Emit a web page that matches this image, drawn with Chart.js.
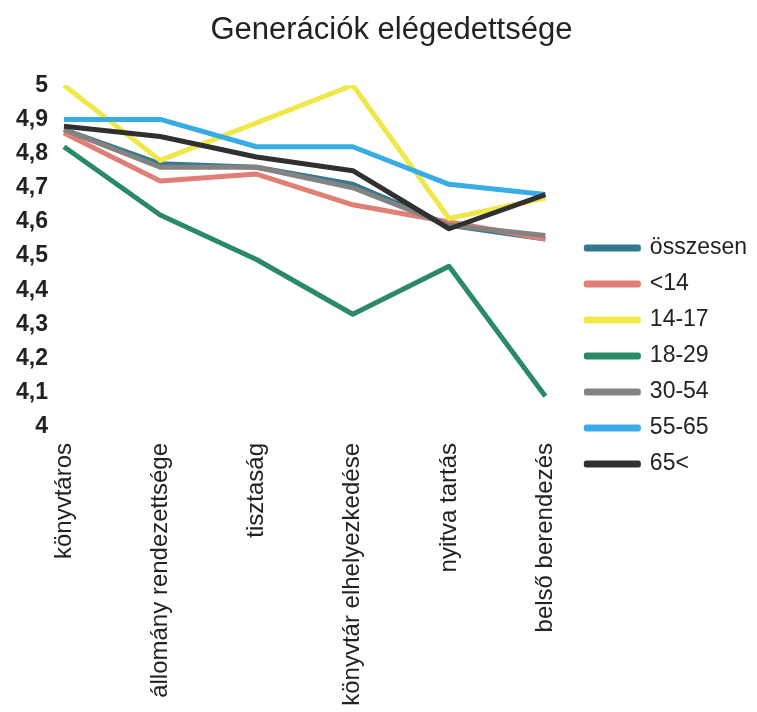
<!DOCTYPE html>
<html lang="hu">
<head>
    <meta charset="UTF-8">
    <title>Generációk elégedettsége</title>
    <script src="https://cdn.jsdelivr.net/npm/chart.js"></script>
    <style>
        html, body { margin: 0; padding: 0; background: #fff; }
        #wrap { width: 757px; height: 712px; }
    </style>
</head>
<body>
<div id="wrap"><canvas id="chartGen"></canvas></div>

<script>
// categories and values
const categories = ['könyvtáros', 'állomány rendezettsége', 'tisztaság', 'könyvtár elhelyezkedése', 'nyitva tartás', 'belső berendezés'];
const seriesNames = ['összesen', '<14', '14-17', '18-29', '30-54', '55-65', '65<'];

const osszesen  = [4.87, 4.77, 4.76, 4.71, 4.59, 4.55];
const under14   = [4.86, 4.72, 4.74, 4.65, 4.60, 4.55];
const age14_17  = [5.00, 4.78, 4.89, 5.00, 4.61, 4.67];
const age18_29  = [4.82, 4.62, 4.49, 4.33, 4.47, 4.09];
const age30_54  = [4.87, 4.76, 4.76, 4.70, 4.59, 4.56];
const age55_65  = [4.90, 4.90, 4.82, 4.82, 4.71, 4.68];
const age65plus = [4.88, 4.85, 4.79, 4.75, 4.58, 4.68];

const yTickLabels = ['4', '4,1', '4,2', '4,3', '4,4', '4,5', '4,6', '4,7', '4,8', '4,9', '5'];

const seriesValues = [osszesen, under14, age14_17, age18_29, age30_54, age55_65, age65plus];
const colors = ['#347891', '#e07f75', '#f0e84a', '#2a8a66', '#878282', '#38ace4', '#303030'];

Chart.defaults.font.family = '"Liberation Sans", Arial, sans-serif';
Chart.defaults.color = '#222';

// excel draws the last series on top, chart.js the lowest order
const datasets = seriesNames.map((name, i) => ({
    label: name,
    data: seriesValues[i],
    borderColor: colors[i],
    backgroundColor: colors[i],
    borderWidth: 5,
    pointRadius: 0,
    tension: 0,
    borderJoinStyle: 'round',
    order: seriesNames.length - i
}));

new Chart(document.getElementById('chartGen'), {
    type: 'line',
    data: { labels: categories, datasets: datasets },
    options: {
        responsive: true,
        maintainAspectRatio: false,
        animation: false,
        layout: { padding: 0 },
        plugins: {
            title: {
                display: true,
                // leading spaces nudge the centred title a bit to the right
                text: '   Generációk elégedettsége',
                font: { size: 31, weight: 'normal' },
                color: '#222',
                padding: { top: 12, bottom: 36 }
            },
            legend: {
                position: 'right',
                align: 'start',
                // empty title just pushes the items down
                title: { display: true, text: ' ', font: { size: 12 }, padding: { top: 0, bottom: 209 } },
                labels: {
                    boxWidth: 52,
                    boxHeight: 2,
                    padding: 13,
                    font: { size: 23 },
                    color: '#222',
                    sort: (a, b) => a.datasetIndex - b.datasetIndex
                }
            },
            tooltip: { enabled: false }
        },
        scales: {
            x: {
                offset: false,
                grid: { display: false, drawTicks: false },
                border: { display: false },
                ticks: {
                    autoSkip: false,
                    minRotation: 90,
                    maxRotation: 90,
                    padding: 16,
                    font: { size: 24 },
                    color: '#222'
                },
                afterFit: s => { s.height = 285; }
            },
            y: {
                min: 4,
                max: 5,
                grid: { display: false, drawTicks: false },
                border: { display: false },
                ticks: {
                    stepSize: 0.1,
                    padding: 16,
                    font: { size: 23, weight: 'bold' },
                    color: '#222',
                    callback: (v, i) => yTickLabels[i]
                }
            },
            // hidden axis only to keep a gap between the plot and the legend
            gap: {
                position: 'right',
                display: false,
                afterFit: s => { s.width = 28; }
            }
        }
    }
});
</script>
</body>
</html>
